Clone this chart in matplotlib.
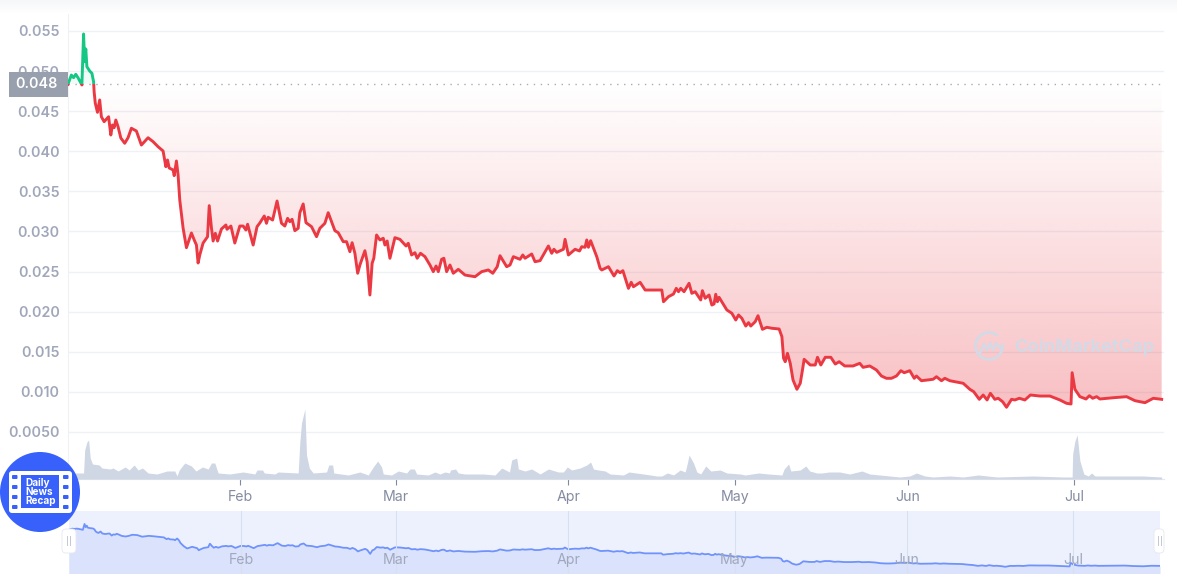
import numpy as np
import matplotlib
matplotlib.use('Agg')
import matplotlib.pyplot as plt
from matplotlib.patches import Circle, Rectangle, FancyBboxPatch, PathPatch, Arc
from matplotlib.path import Path

plt.rcParams['font.family'] = ['Inter', 'DejaVu Sans']

W, H = 1177, 574

# days since 1 Jan
price_days = [0.0, 0.6, 1.0, 1.4, 1.8, 2.5, 2.8, 3.0, 3.2, 3.4, 3.9, 4.3, 4.6, 4.7, 4.9, 5.3, 5.7, 6.0, 6.5, 7.3,
              7.7, 8.0, 8.3, 8.6, 9.0, 9.5, 10.2, 10.8, 11.4, 12.3, 13.2, 14.4, 15.3, 16.2, 17.1, 17.6, 17.9, 18.2, 18.9, 19.1,
              19.5, 19.8, 20.1, 20.7, 21.3, 22.2, 22.7, 23.1, 23.4, 23.7, 24.3, 25.1, 25.4, 25.8, 26.1, 26.5, 26.9, 27.6, 28.4, 28.6,
              29.3, 30.0, 30.9, 31.5, 32.0, 32.3, 33.3, 34.0, 34.5, 35.3, 35.7, 36.0, 36.8, 37.6, 38.4, 39.0, 39.5, 39.9, 40.3, 40.8,
              41.4, 41.7, 42.3, 42.8, 43.8, 44.7, 45.3, 46.2, 46.8, 47.4, 48.0, 48.6, 49.0, 49.5, 50.1, 50.7, 51.1, 51.6, 52.1, 52.5,
              53.4, 53.8, 54.3, 54.7, 55.0, 55.5, 56.1, 56.7, 57.0, 57.4, 57.9, 58.8, 59.7, 60.8, 61.2, 61.8, 62.4, 62.8, 63.4, 64.2,
              65.1, 65.7, 66.2, 66.6, 67.2, 67.6, 68.1, 68.7, 69.3, 70.2, 71.4, 73.2, 74.4, 75.6, 76.4, 77.2, 77.7, 78.9, 79.5, 80.1,
              81.3, 81.8, 82.2, 83.4, 84.0, 84.9, 86.4, 87.0, 87.4, 87.9, 89.1, 89.4, 90.0, 91.2, 92.0, 92.4, 93.0, 93.3, 93.6, 94.0,
              95.1, 95.7, 96.0, 97.2, 98.2, 98.8, 99.3, 99.8, 100.8, 101.3, 101.7, 102.9, 103.8, 106.8, 107.1, 108.0, 108.9, 109.4, 109.8, 110.2,
              110.8, 111.7, 112.2, 112.8, 113.8, 114.1, 114.6, 115.3, 115.8, 116.2, 116.5, 116.8, 117.1, 118.5, 119.4, 120.1, 120.6, 121.2, 121.9, 122.4,
              122.8, 123.6, 124.1, 124.9, 125.7, 126.6, 127.9, 128.4, 128.7, 129.0, 129.4, 129.9, 130.4, 131.1, 131.7, 132.1, 132.4, 133.5, 134.4, 134.8,
              135.4, 136.2, 137.2, 138.0, 138.7, 139.7, 141.2, 142.4, 143.0, 144.2, 145.4, 146.3, 147.2, 148.1, 149.0, 149.8, 150.4, 151.4, 152.2, 152.6,
              153.5, 155.6, 156.2, 157.1, 157.7, 158.6, 161.0, 162.2, 162.9, 163.9, 164.6, 165.3, 165.9, 166.7, 167.3, 168.1, 168.8, 169.7, 170.3, 171.1,
              172.1, 173.1, 174.8, 176.6, 178.4, 179.6, 180.4, 180.6, 181.1, 182.0, 183.1, 183.7, 184.3, 185.0, 185.6, 188.0, 190.4, 191.9, 193.7, 195.2, 196.7]

# price in thousandths of a dollar
price_milli = [48.35, 49.51, 49.18, 49.60, 49.18, 48.27, 54.63, 51.17, 52.76, 50.55, 50.01, 49.73, 48.68, 47.43, 46.02, 44.86, 46.40, 44.31, 43.69, 44.31,
               42.03, 43.28, 42.94, 43.90, 43.07, 41.66, 41.00, 41.69, 42.87, 42.53, 40.78, 41.69, 41.20, 40.57, 40.04, 38.08, 38.91, 37.92, 37.67, 36.96,
               38.79, 37.04, 33.93, 30.43, 27.98, 29.81, 28.94, 28.31, 26.07, 27.07, 28.56, 29.35, 33.22, 30.43, 28.81, 29.77, 28.81, 30.31, 30.81, 30.27,
               30.68, 28.56, 30.68, 30.68, 30.18, 30.90, 28.31, 30.60, 31.06, 31.93, 31.02, 31.77, 31.43, 33.80, 31.02, 30.68, 31.64, 31.22, 31.52, 30.10,
               30.40, 32.34, 33.43, 31.10, 30.60, 29.35, 30.40, 31.02, 32.34, 31.22, 30.10, 29.85, 29.35, 28.73, 28.73, 27.48, 28.60, 27.28, 24.79, 25.82,
               27.60, 26.23, 22.08, 26.03, 26.66, 29.56, 28.94, 29.15, 28.31, 28.81, 26.66, 29.23, 29.02, 28.19, 28.53, 27.07, 27.35, 26.66, 27.28, 26.86,
               25.82, 24.99, 25.70, 24.99, 26.53, 26.66, 24.99, 25.82, 24.79, 25.28, 24.57, 24.36, 24.99, 25.20, 24.79, 25.61, 26.98, 25.61, 25.82, 26.86,
               26.53, 27.07, 26.66, 27.19, 26.23, 26.36, 28.19, 27.28, 27.78, 27.40, 27.78, 29.02, 27.07, 27.78, 27.57, 28.10, 28.03, 28.94, 28.03, 28.85,
               26.86, 25.41, 25.20, 25.61, 24.45, 25.11, 24.86, 25.11, 22.91, 23.66, 23.11, 23.66, 22.70, 22.70, 21.24, 21.87, 22.20, 22.91, 22.49, 22.91,
               22.49, 23.54, 22.29, 22.49, 21.46, 22.62, 21.67, 22.08, 20.83, 20.96, 22.17, 21.24, 21.79, 20.21, 19.80, 18.96, 19.59, 19.17, 18.21, 18.63,
               18.21, 18.75, 19.50, 17.80, 18.05, 17.93, 17.84, 16.88, 14.19, 13.76, 14.81, 13.56, 11.48, 10.32, 11.07, 12.73, 14.06, 13.35, 13.35, 14.31,
               13.35, 14.31, 14.31, 13.47, 13.76, 13.23, 13.23, 13.56, 13.06, 13.23, 12.73, 11.98, 11.69, 11.69, 11.98, 12.64, 12.39, 12.64, 11.69, 11.98,
               11.39, 11.57, 11.89, 11.39, 11.69, 11.39, 11.07, 10.32, 10.02, 9.07, 9.61, 8.99, 9.82, 9.07, 9.20, 8.77, 8.08, 9.07, 8.99, 9.20,
               8.99, 9.61, 9.48, 9.48, 8.99, 8.57, 8.49, 12.39, 10.32, 9.40, 9.11, 9.52, 9.20, 9.40, 9.11, 9.27, 9.40, 8.90, 8.65, 9.20, 9.07]

vol_days = [0.0, 1.6, 2.8, 3.0, 3.4, 3.7, 4.0, 4.4, 5.6, 6.1, 7.6, 8.1, 9.0, 10.3, 11.0, 11.9, 12.6, 13.4, 14.4, 16.0,
            17.8, 19.2, 19.6, 20.0, 21.0, 22.2, 23.0, 24.2, 25.2, 25.8, 26.4, 27.0, 29.1, 31.5, 33.6, 34.0, 35.0, 35.3, 37.2, 37.8,
            41.4, 41.7, 42.0, 42.6, 42.9, 43.4, 44.1, 46.5, 46.9, 47.6, 47.8, 50.4, 52.5, 54.0, 54.9, 55.7, 56.4, 56.7, 58.2, 59.4,
            60.9, 61.5, 62.3, 62.7, 64.8, 66.0, 66.9, 67.8, 68.6, 68.8, 69.7, 70.2, 71.4, 74.7, 76.8, 78.0, 79.4, 79.8, 80.7, 81.0,
            82.2, 83.4, 84.9, 86.4, 88.2, 89.1, 89.8, 90.6, 92.1, 93.3, 94.0, 94.5, 95.4, 96.6, 97.5, 99.9, 100.9, 103.5, 105.9, 106.8,
            107.8, 108.9, 110.1, 111.0, 111.4, 111.7, 112.5, 113.1, 113.8, 114.7, 115.6, 117.3, 118.5, 120.9, 121.8, 124.2, 126.0, 128.4, 128.8, 129.6,
            130.0, 131.7, 132.7, 133.4, 134.7, 135.6, 136.9, 138.8, 140.6, 142.8, 144.2, 146.0, 149.6, 151.4, 152.6, 154.1, 155.6, 158.6, 161.0, 163.7,
            167.1, 173.6, 179.0, 180.6, 180.7, 181.1, 181.5, 182.0, 182.7, 183.5, 184.1, 184.7, 188.0, 190.5, 193.3, 196.7]

volume = [6, 6, 6, 29, 37, 39, 21, 15, 14, 11, 10, 11, 8, 12, 9, 14, 9, 11, 6, 5,
          8, 8, 3, 9, 16, 13, 8, 12, 10, 16, 16, 6, 5, 7, 5, 9, 9, 6, 5, 7,
          6, 37, 56, 70, 24, 11, 6, 7, 14, 14, 6, 4, 7, 4, 12, 18, 12, 5, 4, 8,
          6, 10, 10, 5, 4, 7, 5, 7, 6, 9, 10, 6, 5, 5, 4, 11, 7, 19, 21, 10,
          8, 10, 5, 10, 7, 7, 12, 9, 11, 14, 17, 10, 9, 8, 5, 4, 7, 5, 3, 3,
          6, 4, 9, 7, 16, 24, 16, 7, 5, 13, 8, 9, 6, 5, 4, 6, 5, 4, 10, 15,
          8, 9, 13, 8, 6, 6, 7, 7, 5, 8, 5, 4, 2, 3, 6, 3, 2, 3, 2, 4,
          2, 3, 2, 2, 25, 38, 44, 18, 5, 3, 6, 3, 3, 3, 3, 2]

base_price = 48.4
price_ticks = [55, 50, 45, 40, 35, 30, 25, 20, 15, 10, 5]
price_tick_labels = ['0.055', '0.050', '0.045', '0.040', '0.035', '0.030', '0.025', '0.020', '0.015', '0.010', '0.0050']
month_days = [31, 59, 90, 120, 151, 181]
month_names = ['Feb', 'Mar', 'Apr', 'May', 'Jun', 'Jul']

RED = '#ea3943'
GREEN = '#16c784'
GRID = '#eff1f5'
LABEL = '#a1a7bb'


def px_axes(fig, x0, y0, x1, y1):
    return fig.add_axes([x0 / W, 1 - y1 / H, (x1 - x0) / W, (y1 - y0) / H])


days = np.array(price_days)
price = np.array(price_milli)

fig = plt.figure(figsize=(W / 100, H / 100), dpi=100)

# main chart: 1 milli = 8.02 px, 0.055 at y=31
ax = px_axes(fig, 68, 11, 1164, 479)
ax.set_yticks(price_ticks)
ax.set_yticklabels(price_tick_labels, color=LABEL, fontsize=10.3, fontweight='semibold')
ax.set_xticks(month_days)
ax.set_xticklabels(month_names, color='#858ca2', fontsize=10.2)
ax.tick_params(axis='y', length=0, pad=6)
ax.tick_params(axis='x', length=4, width=0.8, color='#808a9d', pad=4, direction='out')
ax.set_axisbelow(True)
ax.grid(True, axis='y', color=GRID, lw=1)
for s in ['top', 'right']:
    ax.spines[s].set_visible(False)
ax.spines['left'].set_color('#eff2f5')
ax.spines['bottom'].set_color('#e4e8f0')

# gradient fill between the line and the opening price
grad = np.zeros((400, 2, 4))
grad[..., :3] = matplotlib.colors.to_rgb(RED)
grad[..., 3] = np.linspace(0, 0.32, 400)[:, None]
xs = np.r_[days, days[-1], days[0]]
red_poly = np.column_stack([xs, np.r_[np.minimum(price, base_price), base_price, base_price]])
im = ax.imshow(grad, extent=[0, days[-1], 55 - 376 * 0.1247, base_price], origin='upper', aspect='auto', zorder=1)
im.set_clip_path(PathPatch(Path(red_poly), transform=ax.transData))
ax.fill_between(days, price, base_price, where=price >= base_price, color=GREEN, alpha=0.06, lw=0, zorder=1)

ax.axhline(base_price, color='#a6acb9', lw=1, ls=(0, (1, 4)), zorder=2)

red_line, = ax.plot(days, price, color=RED, lw=2.1, zorder=4, solid_joinstyle='round')
green_line, = ax.plot(days, price, color=GREEN, lw=2.1, zorder=4, solid_joinstyle='round')
red_line.set_clip_path(Rectangle((0, -10), 200, base_price + 10, transform=ax.transData))
green_line.set_clip_path(Rectangle((0, base_price), 200, 20, transform=ax.transData))
ax.set_xlim(0, 1096 / 5.56)
ax.set_ylim(55 - 448 * 0.1247, 55 + 20 * 0.1247)

# volume area, same box as the main chart
ax_vol = px_axes(fig, 68, 11, 1164, 479)
ax_vol.patch.set_alpha(0)
ax_vol.set_xlim(0, 1096 / 5.56)
ax_vol.set_ylim(0, 468)
ax_vol.fill_between(vol_days, volume, 0, color='#cfd6e4', lw=0)
ax_vol.axis('off')

# navigator
nav = px_axes(fig, 69, 511, 1160, 574)
nav.set_facecolor('#edf1fe')
nav.set_xlim(0, days[-1])
nav.set_ylim(0.25, 68.7)
nav.fill_between(days, price, 0, color='#dbe3fc', lw=0)
nav.plot(days, price, color='#6f93fb', lw=1.3)
for d, name in zip(month_days, month_names):
    nav.axvline(d, color='#d9dfef', lw=0.8)
    nav.text(d, 15.5, name, color='#a0a8bd', fontsize=10.2, ha='center', va='center')
nav.set_xticks([])
nav.set_yticks([])
for s in nav.spines.values():
    s.set_visible(False)

# overlay in pixel coordinates for the decorations
over = px_axes(fig, 0, 0, W, H)
over.patch.set_alpha(0)
over.imshow(np.linspace(0, 1, 14)[:, None], extent=[0, W, 14, 0], aspect='auto',
            cmap=matplotlib.colors.LinearSegmentedColormap.from_list('t', ['#f6f7f9', '#ffffff']))
over.set_xlim(0, W)
over.set_ylim(H, 0)
over.axis('off')

over.add_patch(Rectangle((9, 72), 59, 25, color='#989fad', lw=0))
over.text(58, 84.5, '0.048', color='white', fontsize=10.3, fontweight='semibold', ha='right', va='center')

# watermark
wm = '#d3d9e5'
over.add_patch(Arc((989, 346), 27, 27, theta1=-10, theta2=310, color=wm, lw=2))
over.plot([980, 984, 987, 990, 993, 996, 1002], [353, 344, 350, 343, 350, 343, 350], color=wm, lw=1.8)
over.text(1014, 347, 'CoinMarketCap', color=wm, fontsize=13.2, fontweight='bold', ha='left', va='center')

# news badge
blue = '#3861fb'
over.add_patch(Circle((40, 492), 40, color=blue, lw=0, zorder=5))
over.add_patch(FancyBboxPatch((9, 471), 63, 42, boxstyle='round,pad=0,rounding_size=3', fc='white', ec='none', zorder=6))
over.add_patch(Rectangle((21, 475), 38, 33, color=blue, lw=0, zorder=7))
for hx in (12, 63):
    for hy in (475, 485, 495, 505):
        over.add_patch(FancyBboxPatch((hx, hy), 5.5, 4, boxstyle='round,pad=0,rounding_size=1', fc=blue, ec='none', zorder=7))
for ty, word in zip((483, 492, 501.5), ('Daily', 'News', 'Recap')):
    over.text(25, ty, word, color='white', fontsize=7.2, fontweight='bold', ha='left', va='center', zorder=8)

# navigator handles
for hx0, hw in ((62, 14), (1154, 10)):
    over.add_patch(FancyBboxPatch((hx0, 529), hw, 24, boxstyle='round,pad=0,rounding_size=4', fc='white', ec='#e6e9f0', lw=0.6, zorder=5))
    cx = hx0 + (7 if hw == 14 else 6)
    for bx in (cx - 2, cx + 1):
        over.add_patch(Rectangle((bx, 536), 1.4, 10, color='#c4c9d6', lw=0, zorder=6))

fig.savefig('out.png', dpi=100)
